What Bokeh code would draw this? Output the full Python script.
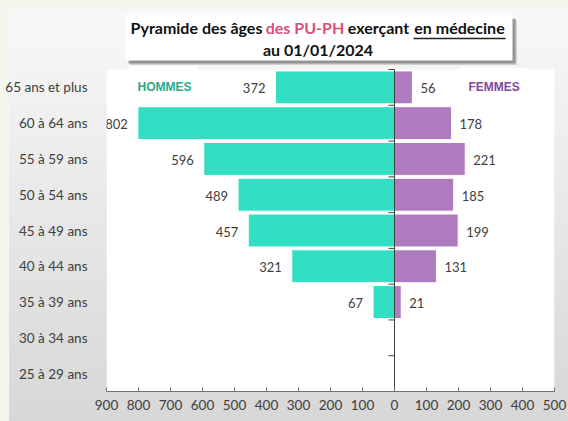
from bokeh.plotting import figure
from bokeh.models import Range1d, FixedTicker, Label, BoxAnnotation, ColumnDataSource
from bokeh.core.properties import value
from bokeh.embed import file_html
from bokeh.resources import INLINE

# ---- data ----
ages = ["25 à 29 ans", "30 à 34 ans", "35 à 39 ans", "40 à 44 ans", "45 à 49 ans",
        "50 à 54 ans", "55 à 59 ans", "60 à 64 ans", "65 ans et plus"]
hommes = [0, 0, 67, 321, 457, 489, 596, 802, 372]
femmes = [0, 0, 21, 131, 199, 185, 221, 178, 56]
x_ticks = [-900, -800, -700, -600, -500, -400, -300, -200, -100, 0, 100, 200, 300, 400, 500]
x_tick_labels = [str(abs(t)) for t in x_ticks]

title_parts = ["Pyramide des âges", "des PU-PH", "exerçant", "en médecine"]
title_line2 = "au 01/01/2024"

W, H = 568, 421
FONT = "Lato"
TXT = "#404040"
C_H = "#33DFC3"
C_F = "#AE7CBE"

# geometry: chart area 106..554 x 69..391 ; the frame extends to the top of the canvas
BOT = 30
unit = (391 - 69) / len(ages)
y_lo = -0.5
y_hi = y_lo + (H - BOT) / unit

idx = list(range(len(ages)))
p = figure(width=W, height=H, output_backend="svg", toolbar_location=None,
           x_range=Range1d(x_ticks[0], x_ticks[-1]), y_range=Range1d(y_lo, y_hi),
           min_border_left=106, min_border_right=14, min_border_top=0, min_border_bottom=BOT)
p.outline_line_color = None
p.background_fill_color = None
p.border_fill_color = None
p.grid.visible = False
p.styles = {
    "background": "linear-gradient(#f3f7ee, #f3f7ee) 0 0 / 9px 100% no-repeat, "
                  "linear-gradient(#f3f7ee, #f3f7ee) 0 0 / 100% 10px no-repeat, "
                  "linear-gradient(to bottom, #f9f9f9 0%, #d7d7d7 100%)"
}


def cbox(l, r, t, b, color, alpha=1.0, level="annotation"):
    return BoxAnnotation(left=l, right=r, top=t, bottom=b,
                         left_units="canvas", right_units="canvas",
                         top_units="canvas", bottom_units="canvas",
                         fill_color=color, fill_alpha=alpha, line_color=None, level=level)


# white chart area (data units)
p.add_layout(BoxAnnotation(left=x_ticks[0], right=x_ticks[-1], bottom=-0.5, top=len(ages) - 0.5,
                           fill_color="white", fill_alpha=1, line_color=None, level="underlay"))
# small white text boxes of the two labels, slightly above the chart area
p.add_layout(cbox(128, 197, 66, 72, "white", level="underlay"))
p.add_layout(cbox(458, 527, 67, 72, "white", level="underlay"))

# title box with shadow
for off, a in [(4.5, 0.22), (3, 0.5)]:
    p.add_layout(cbox(125 + off, 512 + off, 15 + off, 60 + off, "#555555", a))
p.add_layout(cbox(125, 512, 15, 60, "white"))
title_cx = [196, 304.5, 378, 459]
title_col = ["#111111", "#D94F7A", "#111111", "#111111"]
for txt, xx, col in zip(title_parts, title_cx, title_col):
    p.add_layout(Label(x=xx, y=27, x_units="canvas", y_units="canvas", text=txt,
                       text_font=FONT, text_font_style="bold", text_font_size="16px",
                       text_color=col, text_align="center", text_baseline="middle"))
p.add_layout(cbox(413, 505, 37.3, 38.8, "#222222"))
p.add_layout(Label(x=317.5, y=49, x_units="canvas", y_units="canvas", text=title_line2,
                   text_font=FONT, text_font_style="bold", text_font_size="16px",
                   text_color="#111111", text_align="center", text_baseline="middle"))

# bars
src = ColumnDataSource(dict(y=idx, h=[-v for v in hommes], f=femmes))
p.hbar(y="y", left="h", right=0, height=0.92, source=src, fill_color=C_H, line_color="white", line_width=1)
p.hbar(y="y", left=0, right="f", height=0.92, source=src, fill_color=C_F, line_color="white", line_width=1)

# value labels
sh = ColumnDataSource(dict(x=[-v for v in hommes if v], y=[i for i, v in zip(idx, hommes) if v],
                           t=[str(v) for v in hommes if v]))
sf = ColumnDataSource(dict(x=[v for v in femmes if v], y=[i for i, v in zip(idx, femmes) if v],
                           t=[str(v) for v in femmes if v]))
p.text(x="x", y="y", text="t", source=sh, x_offset=-10, y_offset=1, text_align="right",
       text_baseline="middle", text_font=value(FONT), text_font_size="13px", text_color=TXT)
p.text(x="x", y="y", text="t", source=sf, x_offset=8, y_offset=1, text_align="left",
       text_baseline="middle", text_font=value(FONT), text_font_size="13px", text_color=TXT)

# vertical axis line at 0 with category boundary ticks
p.segment(x0=[0], x1=[0], y0=[-0.5], y1=[len(ages) - 0.5], line_color="#404040", line_width=1)
bounds = [i - 0.5 for i in range(len(ages) + 1)]
tl = 6 / (448 / (x_ticks[-1] - x_ticks[0]))
p.segment(x0=[-tl] * len(bounds), x1=[0] * len(bounds), y0=bounds, y1=bounds,
          line_color="#404040", line_width=1)

# legend-like labels
p.add_layout(Label(x=-803, y=len(ages) - 1, text="HOMMES", text_font="Liberation Sans",
                   text_font_style="bold", text_font_size="12px", text_color="#2BA88C",
                   text_align="left", text_baseline="middle"))
p.add_layout(Label(x=231, y=len(ages) - 1, text="FEMMES", text_font="Liberation Sans",
                   text_font_style="bold", text_font_size="12px", text_color="#7F47A6",
                   text_align="left", text_baseline="middle"))

# axes
xa = p.xaxis[0]
xa.ticker = FixedTicker(ticks=x_ticks)
xa.major_label_overrides = {t: l for t, l in zip(x_ticks, x_tick_labels)}
xa.axis_line_color = "#6f6f6f"
xa.major_tick_line_color = "#6f6f6f"
xa.major_tick_in = 4
xa.major_tick_out = 0
xa.minor_tick_line_color = None
xa.major_label_standoff = 8
xa.major_label_text_font = FONT
xa.major_label_text_font_size = "13.5px"
xa.major_label_text_color = TXT

ya = p.yaxis[0]
ya.ticker = FixedTicker(ticks=idx)
ya.major_label_overrides = {i: a for i, a in zip(idx, ages)}
ya.axis_line_color = None
ya.major_tick_line_color = None
ya.minor_tick_line_color = None
ya.major_label_standoff = 13
ya.major_label_text_font = FONT
ya.major_label_text_font_size = "13.5px"
ya.major_label_text_color = TXT

open("out.html", "w").write(file_html(p, INLINE))
